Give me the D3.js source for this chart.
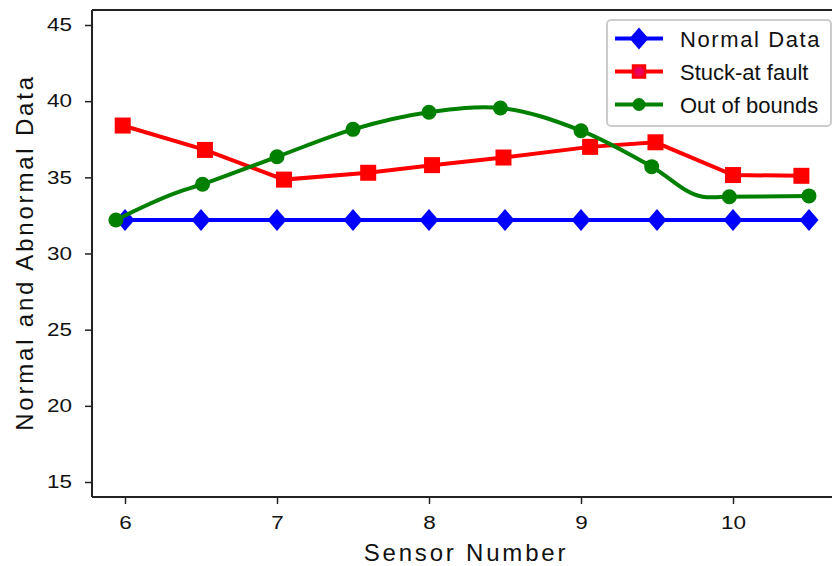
<!DOCTYPE html>
<html><head><meta charset="utf-8">
<script src="https://cdn.jsdelivr.net/npm/d3@7"></script>
<style>body{margin:0;background:#fff}svg{display:block;font-family:"Liberation Sans",Arial,sans-serif}</style>
</head><body><svg id="c" width="832" height="566"></svg>
<script>
// ---- data ----
const yTicks = [15, 20, 25, 30, 35, 40, 45];
const xTicks = [6, 7, 8, 9, 10];
const normalX = [6, 6.5, 7, 7.5, 8, 8.5, 9, 9.5, 10, 10.5];
const normalY = [32.2, 32.2, 32.2, 32.2, 32.2, 32.2, 32.2, 32.2, 32.2, 32.2];
const stuckX = [5.985, 6.526, 7.046, 7.6, 8.02, 8.49, 9.06, 9.49, 10.0, 10.45];
const stuckY = [38.4, 36.8, 34.85, 35.3, 35.8, 36.3, 37.0, 37.3, 35.15, 35.1];
const boundsX = [5.94, 6.51, 7.0, 7.5, 8.0, 8.47, 9.0, 9.465, 9.976, 10.5];
const boundsY = [32.2, 34.55, 36.35, 38.15, 39.27, 39.55, 38.06, 35.7, 33.73, 33.78];
const boundsLineX = [5.94, 6.34, 6.51, 7.0, 7.5, 8.0, 8.47, 9.0, 9.465, 9.8, 9.976, 10.5];
const boundsLineY = [32.2, 34.0, 34.55, 36.35, 38.15, 39.27, 39.55, 38.06, 35.7, 33.73, 33.73, 33.78];
const legendLabels = ["Normal Data", "Stuck-at fault", "Out of bounds"];
const xTitle = "Sensor Number";
const yTitle = "Normal and Abnormal Data";

(function () {
const svg = d3.select("#c");
const x = d3.scaleLinear().domain([6, 10]).range([125, 733]);
const y = d3.scaleLinear().domain([15, 45]).range([482, 25]);
const xLeft = x.invert(92), yTop = y.invert(10), yBot = y.invert(497);

// axes
const gx = svg.append("g").attr("transform", `translate(0,${y(yBot)})`)
  .call(d3.axisBottom(x).tickValues(xTicks).tickSize(7).tickPadding(12).tickFormat(d3.format("d")));
const gy = svg.append("g").attr("transform", `translate(${x(xLeft)},0)`)
  .call(d3.axisLeft(y).tickValues(yTicks).tickSize(7).tickPadding(13).tickFormat(d3.format("d")));
[gx, gy].forEach(g => {
  g.select(".domain").remove();
  g.attr("font-size", null).attr("font-family", null);
  g.selectAll("line").attr("stroke", "#222").attr("stroke-width", 1.5);
  g.selectAll("text").attr("fill", "#111")
    .style("font-size", "18px").style("font-family", '"Liberation Sans",Arial,sans-serif')
    .attr("textLength", function () { return this.textContent.length * 12.5; })
    .attr("lengthAdjust", "spacingAndGlyphs");
});
// spines
svg.append("line").attr("x1", x(xLeft)).attr("x2", x(xLeft)).attr("y1", y(yTop)).attr("y2", y(yBot)).attr("stroke", "#222").attr("stroke-width", 2);
svg.append("line").attr("x1", x(xLeft)).attr("x2", 832).attr("y1", y(yBot)).attr("y2", y(yBot)).attr("stroke", "#222").attr("stroke-width", 2);
svg.append("line").attr("x1", x(xLeft)).attr("x2", 832).attr("y1", y(yTop)).attr("y2", y(yTop)).attr("stroke", "#222").attr("stroke-width", 2);

// titles
svg.append("text").attr("x", (x(xLeft) + 832) / 2 + 4).attr("y", 561).attr("text-anchor", "middle")
  .style("font-size", "24px").style("letter-spacing", "2.8px").attr("fill", "#111").text(xTitle);
svg.append("text").attr("transform", `translate(33,${(y(yTop) + y(yBot)) / 2 - 1}) rotate(-90)`)
  .attr("text-anchor", "middle").style("font-size", "24px").style("letter-spacing", "2.8px").attr("fill", "#111").text(yTitle);

const defs = svg.append("defs");
const grad = defs.append("radialGradient").attr("id", "pink");
grad.append("stop").attr("offset", "0%").attr("stop-color", "#e8007a");
grad.append("stop").attr("offset", "70%").attr("stop-color", "#f00040");
grad.append("stop").attr("offset", "100%").attr("stop-color", "#ff0000");

const line = d3.line().x(d => x(d[0])).y(d => y(d[1]));
const diamondType = { draw(ctx, size) { const w = 9.5, h = 11; ctx.moveTo(0, -h); ctx.lineTo(w, 0); ctx.lineTo(0, h); ctx.lineTo(-w, 0); ctx.closePath(); } };
const diamond = d3.symbol().type(diamondType);

// Normal
svg.append("path").datum(normalX.map((v, i) => [v, normalY[i]])).attr("d", line)
  .attr("fill", "none").attr("stroke", "#0000ff").attr("stroke-width", 4);
svg.selectAll(".nd").data(normalX.map((v, i) => [v, normalY[i]])).join("path")
  .attr("d", diamond).attr("transform", d => `translate(${x(d[0])},${y(d[1])})`).attr("fill", "#0000ff");

// Stuck
svg.append("path").datum(stuckX.map((v, i) => [v, stuckY[i]])).attr("d", line)
  .attr("fill", "none").attr("stroke", "#ff0000").attr("stroke-width", 4);
svg.selectAll(".sq").data(stuckX.map((v, i) => [v, stuckY[i]])).join("rect")
  .attr("x", d => x(d[0]) - 8).attr("y", d => y(d[1]) - 8).attr("width", 16).attr("height", 16).attr("fill", "#ff0000");

// Out of bounds
const curveLine = d3.line().x(d => x(d[0])).y(d => y(d[1])).curve(d3.curveCatmullRom.alpha(1));
svg.append("path").datum(boundsLineX.map((v, i) => [v, boundsLineY[i]]))
  .attr("d", curveLine)
  .attr("fill", "none").attr("stroke", "#008000").attr("stroke-width", 4);
svg.selectAll(".ci").data(boundsX.map((v, i) => [v, boundsY[i]])).join("circle")
  .attr("cx", d => x(d[0])).attr("cy", d => y(d[1])).attr("r", 7.5).attr("fill", "#008000");

// legend
const lg = svg.append("g");
lg.append("rect").attr("x", 607).attr("y", 20).attr("width", 224).attr("height", 106).attr("rx", 4)
  .attr("fill", "#fff").attr("fill-opacity", 0.85).attr("stroke", "#cccccc").attr("stroke-width", 2);
const rowsY = [38.5, 71.5, 104.5];
const colors = ["#0000ff", "#ff0000", "#008000"];
legendLabels.forEach((lab, i) => {
  const cy = rowsY[i];
  lg.append("line").attr("x1", 615).attr("x2", 663).attr("y1", cy).attr("y2", cy).attr("stroke", colors[i]).attr("stroke-width", 4);
  if (i === 0) lg.append("path").attr("d", diamond).attr("transform", `translate(639,${cy})`).attr("fill", colors[0]);
  if (i === 1) lg.append("rect").attr("x", 632.5).attr("y", cy - 6.5).attr("width", 13).attr("height", 13).attr("fill", "url(#pink)").attr("stroke", "#ff0000").attr("stroke-width", 1.5);
  if (i === 2) lg.append("circle").attr("cx", 639).attr("cy", cy).attr("r", 6.5).attr("fill", colors[2]);
  lg.append("text").attr("x", 680).attr("y", cy + 8).style("font-size", "22px").attr("fill", "#111")
    .style("letter-spacing", i === 0 ? "1.6px" : "0px").text(lab);
});
})();
</script></body></html>
